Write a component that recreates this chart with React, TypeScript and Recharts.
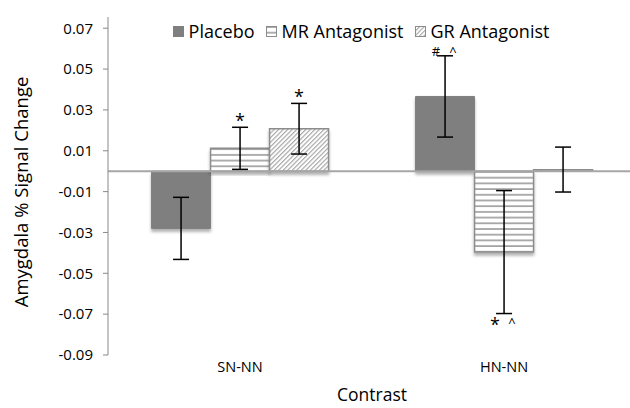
import React from 'react';
import { BarChart, Bar, XAxis, YAxis, ErrorBar, ReferenceLine, LabelList, Label } from 'recharts';

const categories = ['SN-NN', 'HN-NN'];
const placebo = [-0.028, 0.0366];
const placeboErr = [0.0152, 0.0199];
const mrAntagonist = [0.0112, -0.0396];
const mrErr = [0.0103, 0.0301];
const grAntagonist = [0.0208, 0.0008];
const grErr = [0.0124, 0.011];
const placeboMarks = ['', '# ^'];
const mrMarks = ['*', '* ^'];
const grMarks = ['*', ''];
const yTicks = [-0.09, -0.07, -0.05, -0.03, -0.01, 0.01, 0.03, 0.05, 0.07];

const data = categories.map((name, i) => ({
  name,
  placebo: placebo[i],
  placeboErr: placeboErr[i],
  placeboMark: placeboMarks[i],
  mr: mrAntagonist[i],
  mrErr: mrErr[i],
  mrMark: mrMarks[i],
  gr: grAntagonist[i],
  grErr: grErr[i],
  grMark: grMarks[i],
}));

const FONT = '"Open Sans", sans-serif';
const BORDER = '#8c8c8c';

// significance marks sit past the end of the error bar
const markContent = (values: number[], errs: number[]) => (props: any) => {
  const { x, y, width, height, value, index } = props;
  if (!value) return null;
  const v = values[index];
  const h = Number(height);
  const top = Math.min(Number(y), Number(y) + h);
  const bottom = Math.max(Number(y), Number(y) + h);
  const k = Math.abs(h) / Math.abs(v);
  const cx = Number(x) + Number(width) / 2;
  const base = v >= 0 ? top - errs[index] * k : bottom + errs[index] * k + 17;
  const parts = String(value).split(' ');
  const offs = parts.length > 1 ? [-9, 8] : [0];
  return (
    <g>
      {parts.map((p, j) => (
        <text
          key={j}
          x={cx + offs[j]}
          y={p === '^' && v < 0 ? base - 4 : base}
          textAnchor="middle"
          fontFamily={FONT}
          fontSize={p === '*' ? 18 : 13}
          fill="#000"
        >
          {p}
        </text>
      ))}
    </g>
  );
};

const Swatch = ({ fill }: { fill: string }) => (
  <svg width={11} height={11} style={{ marginRight: 5 }}>
    <rect x={0.5} y={0.5} width={10} height={10} fill={fill} stroke={fill === '#7f7f7f' ? '#7f7f7f' : BORDER} />
  </svg>
);

const legendItems = [
  { label: 'Placebo', fill: '#7f7f7f' },
  { label: 'MR Antagonist', fill: 'url(#mrStripes)' },
  { label: 'GR Antagonist', fill: 'url(#grHatch)' },
];

const ChartLegend = () => (
  <div
    style={{
      position: 'absolute',
      top: 19,
      left: 97,
      width: 528,
      display: 'flex',
      justifyContent: 'center',
      fontFamily: FONT,
      fontSize: 18,
      color: '#000',
      zIndex: 2,
    }}
  >
    {legendItems.map((it) => (
      <div key={it.label} style={{ display: 'flex', alignItems: 'center', margin: '0 5.5px' }}>
        <Swatch fill={it.fill} />
        <span>{it.label}</span>
      </div>
    ))}
  </div>
);

export default function App() {
  return (
    <div style={{ position: 'absolute', left: 0, top: 0, width: 630, height: 408, overflow: 'hidden', background: '#fff' }}>
      <svg width={0} height={0} style={{ position: 'absolute' }}>
        <defs>
          <pattern id="mrStripes" patternUnits="userSpaceOnUse" width={8} height={5.7}>
            <rect width={8} height={5.7} fill="#fff" />
            <line x1={0} y1={1} x2={8} y2={1} stroke={BORDER} strokeWidth={1.4} />
          </pattern>
          <pattern id="grHatch" patternUnits="userSpaceOnUse" width={3.2} height={3.2} patternTransform="rotate(45)">
            <rect width={3.2} height={3.2} fill="#fff" />
            <line x1={0.6} y1={0} x2={0.6} y2={3.2} stroke="#999" strokeWidth={1} />
          </pattern>
          <filter id="barShadow" x="-10%" y="-10%" width="120%" height="130%">
            <feDropShadow dx={0} dy={3} stdDeviation={1.6} floodColor="#000" floodOpacity={0.3} />
          </filter>
        </defs>
      </svg>
      <ChartLegend />
      <BarChart
        width={640}
        height={408}
        data={data}
        margin={{ top: 17, right: 4, left: 0, bottom: 0 }}
        barCategoryGap="16.5%"
        barGap={0}
      >
        <XAxis
          dataKey="name"
          axisLine={false}
          tickLine={false}
          tickSize={0}
          tickMargin={7}
          height={53}
          tick={{ fontFamily: FONT, fontSize: 14.5, fill: '#000' }}
        >
          <Label
            content={(p: any) => (
              <text
                x={p.viewBox.x + p.viewBox.width / 2}
                y={p.viewBox.y + 39}
                textAnchor="middle"
                dominantBaseline="central"
                fontFamily={FONT}
                fontSize={17.5}
                fill="#000"
              >
                Contrast
              </text>
            )}
          />
        </XAxis>
        <YAxis
          type="number"
          width={108}
          domain={[-0.09, 0.0755]}
          ticks={yTicks}
          tickFormatter={(v: number) => v.toFixed(2)}
          tickSize={5}
          tickMargin={10}
          axisLine={{ stroke: '#898989' }}
          tickLine={{ stroke: '#898989' }}
          tick={{ fontFamily: FONT, fontSize: 15, fill: '#000' }}
          allowDataOverflow
        >
          <Label
            content={(p: any) => {
              const cx = p.viewBox.x + 20;
              const cy = p.viewBox.y + p.viewBox.height / 2 + 6;
              return (
                <text
                  x={cx}
                  y={cy}
                  transform={`rotate(-90 ${cx} ${cy})`}
                  textAnchor="middle"
                  dominantBaseline="central"
                  fontFamily={FONT}
                  fontSize={18.5}
                  fill="#000"
                >
                  Amygdala % Signal Change
                </text>
              );
            }}
          />
        </YAxis>
        <ReferenceLine y={0} stroke="#a6a6a6" strokeWidth={2} />
        <Bar dataKey="placebo" fill="#7f7f7f" stroke="#7f7f7f" strokeWidth={1} filter="url(#barShadow)" isAnimationActive={false}>
          <ErrorBar dataKey="placeboErr" width={8} strokeWidth={1.5} stroke="#000" />
          <LabelList dataKey="placeboMark" content={markContent(placebo, placeboErr)} />
        </Bar>
        <Bar dataKey="mr" fill="url(#mrStripes)" stroke={BORDER} strokeWidth={1.5} filter="url(#barShadow)" isAnimationActive={false}>
          <ErrorBar dataKey="mrErr" width={8} strokeWidth={1.5} stroke="#000" />
          <LabelList dataKey="mrMark" content={markContent(mrAntagonist, mrErr)} />
        </Bar>
        <Bar dataKey="gr" fill="url(#grHatch)" stroke={BORDER} strokeWidth={1.5} filter="url(#barShadow)" isAnimationActive={false}>
          <ErrorBar dataKey="grErr" width={8} strokeWidth={1.5} stroke="#000" />
          <LabelList dataKey="grMark" content={markContent(grAntagonist, grErr)} />
        </Bar>
      </BarChart>
    </div>
  );
}
